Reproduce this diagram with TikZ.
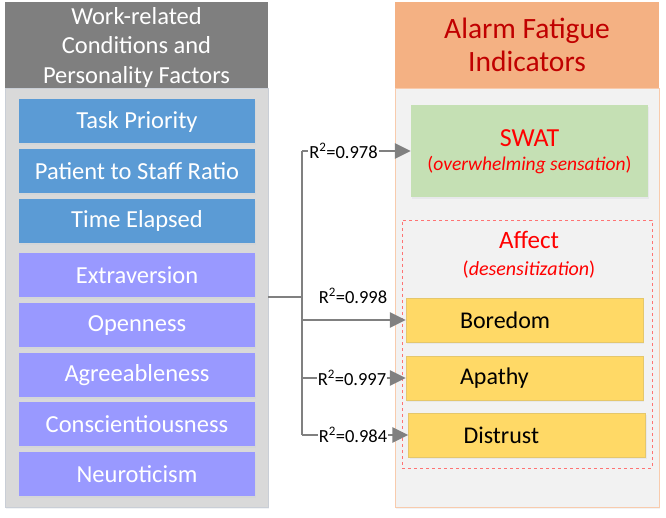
\documentclass[tikz,border=0pt]{standalone}
\usepackage{fontspec}
\setmainfont{Carlito}
\usetikzlibrary{arrows.meta,shadows}
\definecolor{hdrgray}{HTML}{7F7F7F}
\definecolor{bodygray}{HTML}{D9D9D9}
\definecolor{bodyline}{HTML}{C9CED6}
\definecolor{hdrorange}{HTML}{F4B183}
\definecolor{rbody}{HTML}{F2F2F2}
\definecolor{rline}{HTML}{F8CBAD}
\definecolor{bluebox}{HTML}{5B9BD5}
\definecolor{purplebox}{HTML}{9999FF}
\definecolor{greenbox}{HTML}{C5E0B4}
\definecolor{yellowbox}{HTML}{FFD966}
\definecolor{darkred}{HTML}{C00000}
\definecolor{conn}{HTML}{808080}
\tikzset{
  shd/.style={drop shadow={shadow xshift=1pt,shadow yshift=-2pt,opacity=0.25,fill=bodyline}},
  factor/.style={shd,rectangle,minimum width=236pt,minimum height=44pt,inner sep=0pt,
    text=white,font=\fontsize{24.5}{28}\selectfont},
  bluef/.style={factor,fill=bluebox},
  purplef/.style={factor,fill=purplebox},
  ybox/.style={shd,rectangle,fill=yellowbox,draw=yellowbox!80!gray,line width=0.4pt,
    minimum width=237pt,minimum height=44pt,inner xsep=0pt,inner ysep=0pt,text width=237pt,
    align=left,text=black,font=\fontsize{24}{28}\selectfont},
  connline/.style={draw=conn,line width=2.5pt},
  arr/.style={connline,-{Triangle[length=16pt,width=15pt]}},
  rlab/.style={fill=white,inner sep=1pt,font=\fontsize{18.5}{21}\selectfont,text=black},
}
\begin{document}
\begin{tikzpicture}[x=1pt,y=-1pt]
\useasboundingbox (0,0) rectangle (666,518);
% left panel
\node[shd,rectangle,draw=bodyline,fill=bodygray,minimum width=263pt,minimum height=419pt,inner sep=0pt] (lbody) at (136.5,297.5) {};
\node[rectangle,fill=hdrgray,minimum width=263pt,minimum height=86pt,inner sep=0pt] (lhead) at (136.5,45) {};
\node[text=white,align=center,font=\fontsize{24.5}{29.5}\selectfont] (lhtext) at (136.5,47) {Work-related\\Conditions and\\Personality Factors};
% factors
\node[bluef] (task) at (137,121.5) {Task Priority};
\node[bluef] (ratio) at (137,171.1) {Patient to Staff Ratio};
\node[bluef] (time) at (137,220.7) {Time Elapsed};
\node[purplef] (extra) at (137,275.5) {Extraversion};
\node[purplef] (open) at (137,325.1) {Openness};
\node[purplef] (agree) at (137,374.7) {Agreeableness};
\node[purplef] (consc) at (137,424.3) {Conscientiousness};
\node[purplef] (neuro) at (137,473.9) {Neuroticism};
% right panel
\node[shd,rectangle,draw=rline,fill=rbody,minimum width=264pt,minimum height=419pt,inner sep=0pt] (rbody) at (527,297.5) {};
\node[rectangle,fill=hdrorange,minimum width=264pt,minimum height=86pt,inner sep=0pt] (rhead) at (527,45) {};
\node[text=darkred,align=center,font=\fontsize{29.5}{33}\selectfont] (rhtext) at (527,45) {Alarm Fatigue\\Indicators};
% SWAT
\node[shd,rectangle,fill=greenbox,minimum width=237pt,minimum height=92pt,inner sep=0pt] (swat) at (529.5,151) {};
\node[text=red,font=\fontsize{26}{30}\selectfont] (swatt) at (529.5,138) {SWAT};
\node[text=red,font=\fontsize{19.5}{22}\selectfont] (swats) at (529.5,165) {(\textit{overwhelming sensation})};
% Affect group
\node[rectangle,draw=red!55,dashed,line width=0.8pt,minimum width=250pt,minimum height=248pt,inner sep=0pt] (affect) at (527,344) {};
\node[text=red,font=\fontsize{25}{29}\selectfont] (afft) at (529,240) {Affect};
\node[text=red,font=\fontsize{20}{23}\selectfont] (affs) at (529,270) {(\textit{desensitization})};
\node[ybox] (bore) at (524.5,320) {\hspace*{54pt}Boredom};
\node[ybox] (apathy) at (524.5,378) {\hspace*{54pt}Apathy};
\node[ybox] (distrust) at (527,435) {\hspace*{55pt}Distrust};
% connectors
\coordinate (src) at (268,297);
\coordinate (jn) at (302,297);
\coordinate (jtop) at (302,151);
\coordinate (jbot) at (302,435);
\draw[connline] (src) -- (jn);
\draw[connline] (jtop) -- (jbot);
\draw[arr] (jtop) -- (swat.west);
\draw[arr] (302,320) -- (bore.west);
\draw[arr] (302,378) -- (apathy.west);
\draw[arr] (jbot) -- (distrust.west);
\node[rlab] (l1) at (343.5,151) {R\textsuperscript{2}=0.978};
\node[rlab,fill=none] (l2) at (353,296) {R\textsuperscript{2}=0.998};
\node[rlab] (l3) at (352,378) {R\textsuperscript{2}=0.997};
\node[rlab] (l4) at (353,435) {R\textsuperscript{2}=0.984};
\end{tikzpicture}
\end{document}
